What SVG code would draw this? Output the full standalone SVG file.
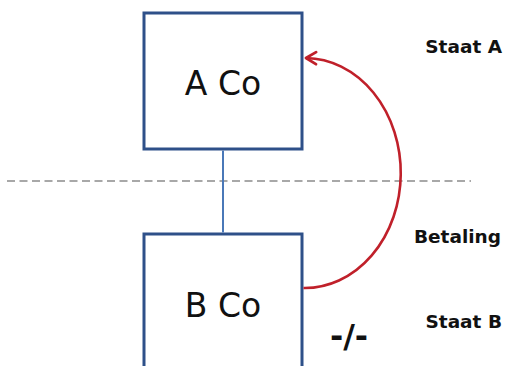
<svg xmlns="http://www.w3.org/2000/svg" width="506" height="366" viewBox="0 0 506 366">
<style>
.box{fill:#fff;stroke:#2E5089;stroke-width:3}
.lbl{font-family:"DejaVu Sans",Verdana,sans-serif;font-size:33px;fill:#111;text-anchor:middle}
.side{font-family:"DejaVu Sans",Verdana,sans-serif;font-size:18.5px;font-weight:bold;fill:#111;text-anchor:end}
</style>
<defs>
<marker id="arr" markerWidth="16" markerHeight="16" refX="13" refY="8" orient="auto" markerUnits="userSpaceOnUse">
<path d="M3,2 L13,8 L3,14" fill="none" stroke="#C0202A" stroke-width="2.8" stroke-linecap="round" stroke-linejoin="round"/>
</marker>
</defs>
<g id="nodeA">
<rect class="box" x="144" y="13" width="158" height="136"/>
<text class="lbl" x="223" y="95">A Co</text>
</g>
<g id="nodeB">
<rect class="box" x="144" y="234" width="158" height="140"/>
<text class="lbl" x="223" y="317">B Co</text>
</g>
<g id="connectors">
<line x1="7" y1="181" x2="471" y2="181" stroke="#A8A8A8" stroke-width="2" stroke-dasharray="8,4.5"/>
<line x1="223" y1="150.5" x2="223" y2="232.5" stroke="#4A78B8" stroke-width="2"/>
<path d="M303.5,288 A96,115 0 0 0 306,58" fill="none" stroke="#C0202A" stroke-width="2.6" marker-end="url(#arr)"/>
</g>
<g id="labels">
<text class="side" x="502" y="53">Staat A</text>
<text class="side" x="501" y="243">Betaling</text>
<text class="side" x="502" y="328">Staat B</text>
<text x="349" y="347" font-family="DejaVu Sans,Verdana,sans-serif" font-size="32" font-weight="bold" fill="#111" text-anchor="middle">-/-</text>
</g>
</svg>
